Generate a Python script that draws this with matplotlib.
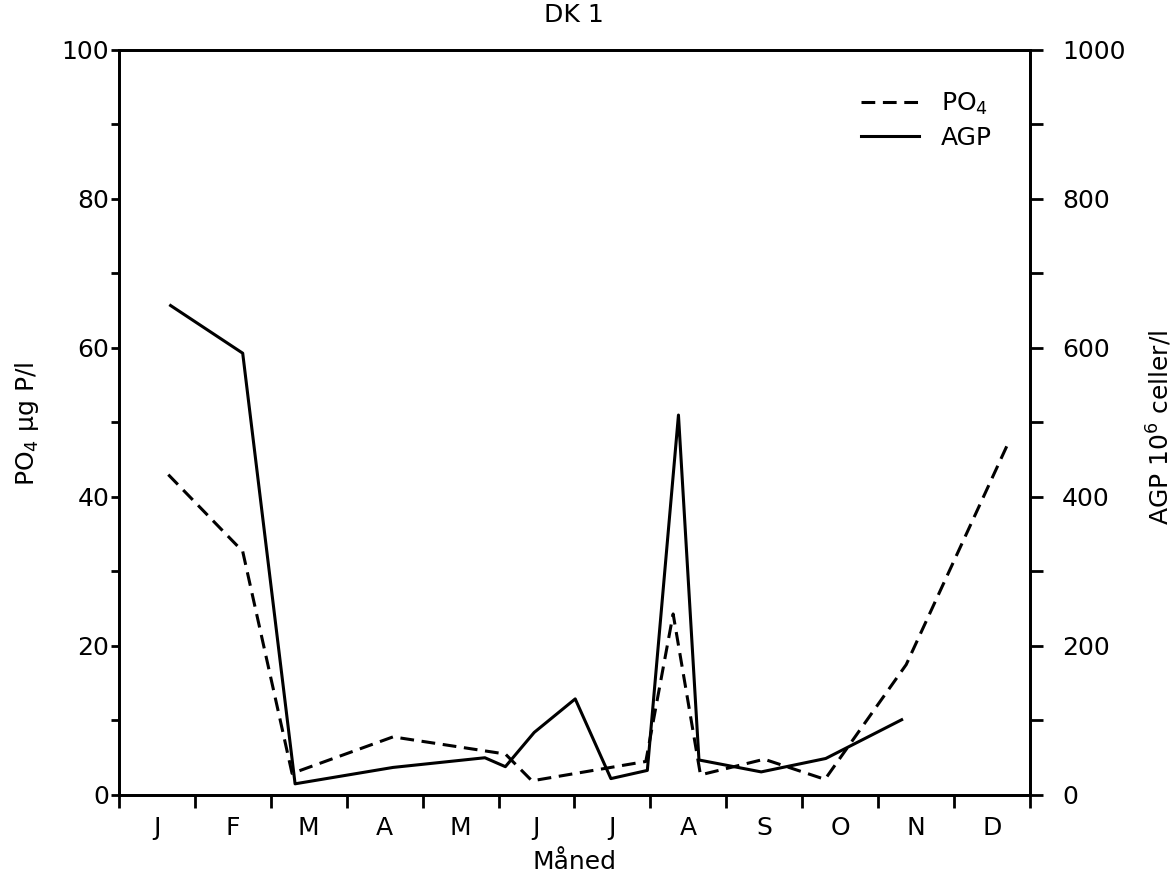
"""DK 1: PO4 and AGP through the year, two y axes"""

import numpy as np
import matplotlib
matplotlib.use("Agg")
import matplotlib.pyplot as plt

months = ["J", "F", "M", "A", "M", "J", "J", "A", "S", "O", "N", "D"]

# PO4 in ug P/l (left axis), time in months from 1 January
po4_t = [0.65, 1.63, 2.28, 3.61, 5.09, 5.44, 6.94, 7.30, 7.66, 8.50, 9.30, 10.37, 11.73]
po4 = [43.0, 32.7, 2.9, 7.8, 5.5, 1.9, 4.5, 24.3, 2.7, 4.8, 2.1, 17.5, 47.6]

# AGP in 10^6 celler/l (right axis)
agp_t = [0.68, 1.63, 2.32, 3.61, 4.82, 5.09, 5.47, 6.01, 6.48, 6.96, 7.37, 7.64, 8.46, 9.31, 10.31]
agp = [657, 593, 15, 37, 50, 38, 84, 129, 22, 33, 510, 47, 31, 49, 101]

plt.rcParams["font.family"] = ["DejaVu Sans"]
plt.rcParams["font.size"] = 18

fig = plt.figure(figsize=(11.72, 8.8), dpi=100)
ax = fig.add_axes([0.1015, 0.0966, 0.7773, 0.8466])
ax2 = ax.twinx()

po4_line, = ax.plot(po4_t, po4, color="black", ls="--", lw=2.2, dashes=(4.5, 2.5),
                    label=r"$\mathregular{PO_4}$")
agp_line, = ax2.plot(agp_t, agp, color="black", ls="-", lw=2.2, label="AGP")

# x axis: ticks on month boundaries, letters in between
ax.set_xlim(0, 12)
ax.set_xticks(range(13))
ax.set_xticklabels([])
ax.set_xticks(np.arange(0.5, 12, 1), minor=True)
ax.set_xticklabels(months, minor=True)
ax.tick_params(axis="x", which="major", direction="out", length=9, width=2)
ax.tick_params(axis="x", which="minor", length=0, pad=15)

# left axis
ax.set_ylim(0, 100)
ax.set_yticks(range(0, 101, 20))
ax.set_yticks(range(0, 101, 10), minor=True)
ax.tick_params(axis="y", which="both", direction="out", length=6, width=2, pad=1)

# right axis
ax2.set_ylim(0, 1000)
ax2.set_yticks(range(0, 1001, 200))
ax2.set_yticks(range(0, 1001, 100), minor=True)
ax2.tick_params(axis="y", which="both", direction="out", length=9, width=2, pad=14)

for a in (ax, ax2):
    for sp in a.spines.values():
        sp.set_linewidth(2)

ax2.legend(handles=[po4_line, agp_line], frameon=False, loc="upper left",
           bbox_to_anchor=(0.79, 0.975), handlelength=2.3, labelspacing=0.35,
           handletextpad=0.9)

fig.text(0.49, 0.997, "DK 1", ha="center", va="top")
fig.text(0.49, 0.02, "Måned", ha="center", va="center")
fig.text(0.023, 0.518, r"$\mathregular{PO_4}$ µg P/l", rotation=90, ha="center", va="center")
fig.text(0.989, 0.514, r"AGP $\mathregular{10^6}$ celler/l", rotation=90, ha="center", va="center")

fig.savefig("out.png", dpi=100)
